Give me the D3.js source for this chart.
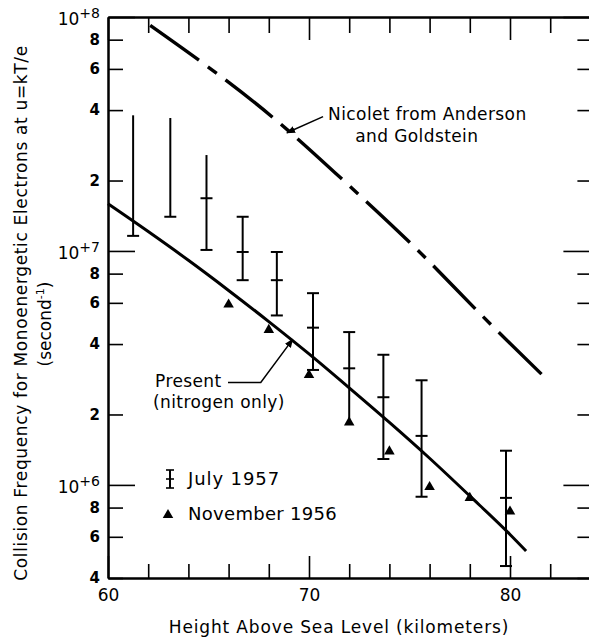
<!DOCTYPE html>
<html>
<head>
<meta charset="utf-8">
<script src="https://cdn.jsdelivr.net/npm/d3@7"></script>
<style>
  body { margin: 0; background: #fff; }
  svg text { font-family: "DejaVu Sans", sans-serif; fill: #000; }
</style>
</head>
<body>
<div id="chart"></div>
<script>
// ---------------------------------------------------------------------------
// Data

// July 1957: height (km) and spread of collision frequency (1/s)
const julyHeight = [61.25, 63.1, 64.9, 66.7, 68.4, 70.2, 72.0, 73.7, 75.6, 79.8];
const julyHigh = [3.8e7, 3.7e7, 2.57e7, 1.40e7, 9.9e6, 6.6e6, 4.5e6, 3.6e6, 2.8e6, 1.4e6];
const julyMid = [null, null, 1.68e7, 9.9e6, 7.5e6, 4.7e6, 3.15e6, 2.37e6, 1.62e6, 8.8e5];
const julyLow = [1.16e7, 1.40e7, 1.01e7, 7.5e6, 5.3e6, 3.1e6, 1.9e6, 1.29e6, 8.9e5, 4.5e5];
const julyTopCap = [false, false, false, true, true, true, true, true, true, true];
const julyLowCap = [true, true, true, true, true, true, false, true, true, true];

// November 1956
const novHeight = [66, 68, 70, 72, 74, 76, 78, 80];
const novValue = [5.9e6, 4.6e6, 2.95e6, 1.85e6, 1.39e6, 9.8e5, 8.8e5, 7.7e5];

// Present (nitrogen only)
const presentHeight = [60, 62, 64, 66, 68, 70, 72, 74, 76, 78, 80, 80.8];
const presentValue = [1.59e7, 1.21e7, 9.12e6, 6.78e6, 4.99e6, 3.63e6, 2.60e6, 1.85e6, 1.30e6, 8.97e5, 6.14e5, 5.22e5];

// Nicolet from Anderson and Goldstein
const nicoletHeight = [62.1, 68.4, 72.0, 75.5, 78.6, 81.7];
const nicoletValue = [9.2e7, 3.6e7, 1.9e7, 9.9e6, 5.3e6, 2.9e6];

// ticks
const xMajorTicks = [60, 70, 80];
const xMinorTicks = [62, 64, 66, 68, 72, 74, 76, 78, 82];
const yMajorTicks = [1e6, 1e7, 1e8];
const yMinorTicks = [4e5, 6e5, 8e5, 2e6, 4e6, 6e6, 8e6, 2e7, 4e7, 6e7, 8e7];

// ---------------------------------------------------------------------------
// Setup

const width = 589;
const height = 638;

const x = d3.scaleLinear().domain([60, 84]).range([108, 590.4]);
const y = d3.scaleLog().domain([4e5, 1e8]).range([578, 17]);

const svg = d3.select('#chart').append('svg')
  .attr('width', width)
  .attr('height', height);

svg.append('defs').append('marker')
  .attr('id', 'arrow')
  .attr('viewBox', '0 0 10 10')
  .attr('refX', 9)
  .attr('refY', 5)
  .attr('markerWidth', 9)
  .attr('markerHeight', 9)
  .attr('markerUnits', 'userSpaceOnUse')
  .attr('orient', 'auto')
  .append('path')
  .attr('d', 'M0,1 L10,5 L0,9 z')
  .attr('fill', '#000');

// style an axis group: black strokes, our font
function styleAxis(g, tickWidth) {
  g.attr('font-family', null).attr('font-size', null);
  g.selectAll('.domain').attr('stroke', '#000').attr('stroke-width', 2);
  g.selectAll('.tick line').attr('stroke', '#000').attr('stroke-width', tickWidth);
}

// mantissa of a tick value, e.g. 6e5 -> 6
function mantissa(d) {
  return String(Math.round(d / Math.pow(10, Math.floor(Math.log10(d) + 1e-9))));
}

// ---------------------------------------------------------------------------
// Axes

// left
svg.append('g')
  .attr('transform', `translate(${x(60)},0)`)
  .call(d3.axisLeft(y).tickValues(yMinorTicks).tickSizeInner(-15).tickSizeOuter(0)
    .tickPadding(8).tickFormat(mantissa))
  .call(g => styleAxis(g, 1.6))
  .call(g => g.selectAll('text').attr('font-size', 15).attr('font-weight', 'bold'));

svg.append('g')
  .attr('transform', `translate(${x(60)},0)`)
  .call(d3.axisLeft(y).tickValues(yMajorTicks).tickSizeInner(-27).tickSizeOuter(0)
    .tickPadding(8).tickFormat(() => '10'))
  .call(g => styleAxis(g, 1.6))
  .call(g => g.selectAll('text').attr('font-size', 17).attr('dy', '0.45em')
    .append('tspan')
    .attr('font-size', 14)
    .attr('dy', -7)
    .text(d => '+' + Math.round(Math.log10(d))));

// right (line itself sits just off the page)
svg.append('g')
  .attr('transform', `translate(${x(84)},0)`)
  .call(d3.axisRight(y).tickValues(yMinorTicks).tickSizeInner(-13).tickSizeOuter(0).tickFormat(''))
  .call(g => styleAxis(g, 1.6));

svg.append('g')
  .attr('transform', `translate(${x(84)},0)`)
  .call(d3.axisRight(y).tickValues(yMajorTicks).tickSizeInner(-27).tickSizeOuter(0).tickFormat(''))
  .call(g => styleAxis(g, 1.6));

// bottom
svg.append('g')
  .attr('transform', `translate(0,${y(4e5)})`)
  .call(d3.axisBottom(x).tickValues(xMinorTicks).tickSizeInner(-14).tickSizeOuter(0).tickFormat(''))
  .call(g => styleAxis(g, 1.6));

svg.append('g')
  .attr('transform', `translate(0,${y(4e5)})`)
  .call(d3.axisBottom(x).tickValues(xMajorTicks).tickSizeInner(-22).tickSizeOuter(0)
    .tickPadding(11).tickFormat(d3.format('d')))
  .call(g => styleAxis(g, 1.6))
  .call(g => g.selectAll('text').attr('font-size', 17));

// top
svg.append('g')
  .attr('transform', `translate(0,${y(1e8)})`)
  .call(d3.axisTop(x).tickValues(xMinorTicks).tickSizeInner(-16).tickSizeOuter(0).tickFormat(''))
  .call(g => styleAxis(g, 1.6));

svg.append('g')
  .attr('transform', `translate(0,${y(1e8)})`)
  .call(d3.axisTop(x).tickValues(xMajorTicks).tickSizeInner(-23).tickSizeOuter(0).tickFormat(''))
  .call(g => styleAxis(g, 1.6));

// axis titles
svg.append('text')
  .attr('x', 339)
  .attr('y', 633)
  .attr('text-anchor', 'middle')
  .attr('font-size', 17)
  .attr('letter-spacing', 0.85)
  .text('Height Above Sea Level (kilometers)');

svg.append('text')
  .attr('transform', 'translate(27,313) rotate(-90)')
  .attr('text-anchor', 'middle')
  .attr('font-size', 17)
  .attr('letter-spacing', 0.65)
  .text('Collision Frequency for Monoenergetic Electrons at u=kT/e');

const secondLabel = svg.append('text')
  .attr('transform', 'translate(51,324) rotate(-90)')
  .attr('text-anchor', 'middle')
  .attr('font-size', 17)
  .text('(second');
secondLabel.append('tspan').attr('font-size', 11).attr('dy', -7).text('-1');
secondLabel.append('tspan').attr('dy', 7).text(')');

// ---------------------------------------------------------------------------
// Curves

const line = d3.line()
  .x(d => x(d[0]))
  .y(d => y(d[1]))
  .curve(d3.curveMonotoneX);

svg.append('path')
  .datum(d3.zip(nicoletHeight, nicoletValue))
  .attr('d', line)
  .attr('fill', 'none')
  .attr('stroke', '#000')
  .attr('stroke-width', 3.4)
  .attr('stroke-dasharray', '60,11,11,11');

svg.append('path')
  .datum(d3.zip(presentHeight, presentValue))
  .attr('d', line)
  .attr('fill', 'none')
  .attr('stroke', '#000')
  .attr('stroke-width', 3);

// ---------------------------------------------------------------------------
// July 1957 bars

const capHalf = 6;
const bars = svg.append('g').attr('stroke', '#000').attr('stroke-width', 2);

julyHeight.forEach((h, i) => {
  const cx = x(h);
  bars.append('line')
    .attr('x1', cx).attr('x2', cx)
    .attr('y1', y(julyHigh[i])).attr('y2', y(julyLow[i]));
  if (julyTopCap[i]) {
    bars.append('line')
      .attr('x1', cx - capHalf).attr('x2', cx + capHalf)
      .attr('y1', y(julyHigh[i])).attr('y2', y(julyHigh[i]));
  }
  if (julyLowCap[i]) {
    bars.append('line')
      .attr('x1', cx - capHalf).attr('x2', cx + capHalf)
      .attr('y1', y(julyLow[i])).attr('y2', y(julyLow[i]));
  }
  if (julyMid[i] !== null) {
    bars.append('line')
      .attr('x1', cx - capHalf).attr('x2', cx + capHalf)
      .attr('y1', y(julyMid[i])).attr('y2', y(julyMid[i]));
  }
});

// November 1956 triangles
const triangle = d3.symbol(d3.symbolTriangle, 48);

svg.append('g').selectAll('path')
  .data(d3.zip(novHeight, novValue))
  .enter().append('path')
  .attr('transform', d => `translate(${x(d[0])},${y(d[1])})`)
  .attr('d', triangle)
  .attr('fill', '#000');

// ---------------------------------------------------------------------------
// Annotations

// Nicolet label and arrow
svg.append('line')
  .attr('x1', x(70.7)).attr('y1', y(3.75e7))
  .attr('x2', x(68.9)).attr('y2', y(3.2e7))
  .attr('stroke', '#000').attr('stroke-width', 1.5)
  .attr('marker-end', 'url(#arrow)');

const nicoletText = svg.append('text')
  .attr('x', x(70.95))
  .attr('y', y(3.63e7))
  .attr('font-size', 17)
  .attr('letter-spacing', 0.4);
nicoletText.append('tspan').text('Nicolet from Anderson');
nicoletText.append('tspan').attr('x', x(72.3)).attr('dy', 22).text('and Goldstein');

// Present label and leader
svg.append('path')
  .attr('d', d3.line()([
    [x(65.97), y(2.74e6)],
    [x(67.6), y(2.74e6)],
    [x(69.19), y(4.19e6)]
  ]))
  .attr('fill', 'none')
  .attr('stroke', '#000').attr('stroke-width', 1.5)
  .attr('marker-end', 'url(#arrow)');

const presentText = svg.append('text')
  .attr('x', x(62.34))
  .attr('y', y(2.62e6))
  .attr('font-size', 17)
  .attr('letter-spacing', 0.4);
presentText.append('tspan').text('Present');
presentText.append('tspan').attr('x', x(62.24)).attr('dy', 21).text('(nitrogen only)');

// ---------------------------------------------------------------------------
// Legend

const legend = svg.append('g').attr('transform', 'translate(170,479)');

legend.append('line').attr('x1', 0).attr('x2', 0).attr('y1', -9).attr('y2', 9)
  .attr('stroke', '#000').attr('stroke-width', 2);
[-9, 0, 9].forEach(dy => {
  legend.append('line').attr('x1', -4).attr('x2', 4).attr('y1', dy).attr('y2', dy)
    .attr('stroke', '#000').attr('stroke-width', 1.6);
});
legend.append('text').attr('x', 18).attr('y', 6).attr('font-size', 18)
  .attr('letter-spacing', 0.9).text('July 1957');

legend.append('path')
  .attr('transform', 'translate(-2,36)')
  .attr('d', triangle)
  .attr('fill', '#000');
legend.append('text').attr('x', 18).attr('y', 41).attr('font-size', 18)
  .attr('letter-spacing', 0.3).text('November 1956');
</script>
</body>
</html>
